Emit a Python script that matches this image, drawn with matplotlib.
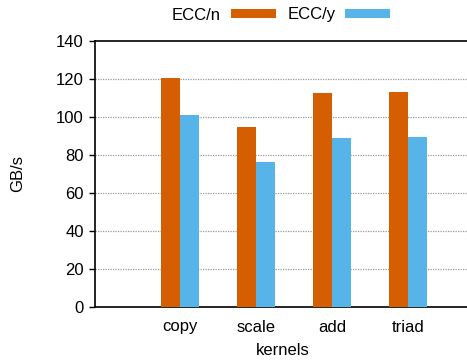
import numpy as np
import matplotlib
matplotlib.use("Agg")
import matplotlib.pyplot as plt

kernels = ["copy", "scale", "add", "triad"]
ecc_off = [120.5, 94.7, 112.6, 113.2]
ecc_on = [101.0, 76.3, 89.0, 89.5]
series_names = ["ECC/n", "ECC/y"]
colors = ["#D55E00", "#56B4E9"]
yticks = [0, 20, 40, 60, 80, 100, 120, 140]

plt.rcParams["font.family"] = ["Liberation Sans", "DejaVu Sans"]
plt.rcParams["font.size"] = 12

fig = plt.figure(figsize=(4.67, 3.6), dpi=100)
# axes run slightly past the right edge, so no right border shows
ax = fig.add_axes([95 / 467, 53 / 360, 375 / 467, 266 / 360])

x = np.arange(len(kernels))
w = 0.25
ax.bar(x - w / 2, ecc_off, w, color=colors[0], label=series_names[0], zorder=3)
ax.bar(x + w / 2, ecc_on, w, color=colors[1], label=series_names[1], zorder=3)

ax.set_xlim(-1.118, 3.816)
ax.set_ylim(0, 140)
ax.set_yticks(yticks)
ax.set_xticks(x)
ax.set_xticklabels(kernels)
ax.tick_params(axis="x", length=0, pad=9)
ax.tick_params(axis="y", direction="out", length=4, width=1, pad=4)

for y in yticks[1:-1]:
    ax.axhline(y, color="#999999", linestyle=(0, (1, 1)), linewidth=0.9, zorder=1)

for side in ["left", "bottom", "top"]:
    ax.spines[side].set_linewidth(1.2)
ax.spines["right"].set_visible(False)

ax.set_ylabel("GB/s", labelpad=22)
ax.set_xlabel("kernels", labelpad=6)

fig.legend(loc="center", bbox_to_anchor=(281 / 467, 1 - 15 / 360), ncol=2,
           frameon=False, markerfirst=False, handlelength=2.7, handleheight=0.45,
           handletextpad=0.6, columnspacing=0.7, borderpad=0)

fig.savefig("out.png", dpi=100)
